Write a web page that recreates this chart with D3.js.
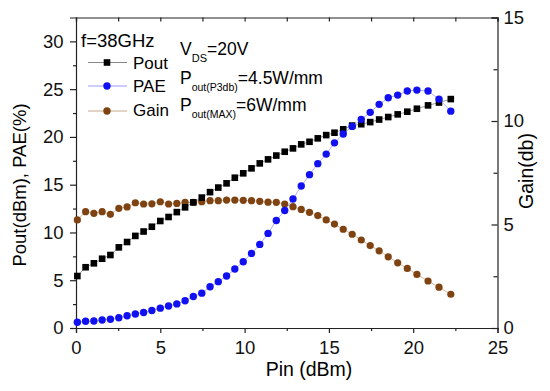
<!DOCTYPE html>
<html>
<head>
<meta charset="utf-8">
<script src="https://cdn.jsdelivr.net/npm/d3@7"></script>
<style>
  body { margin: 0; background: #fff; }
  svg { font-family: "Liberation Sans", Arial, sans-serif; }
  .axis path, .axis line { stroke: #222; stroke-width: 1.2; }
  .axis text { font-size: 18.5px; fill: #111; }
</style>
</head>
<body>
<svg id="chart" width="550" height="391"></svg>
<script>
// input power sweep (dBm)
var pin = [0.08, 0.57, 1.06, 1.55, 2.04, 2.54, 3.03, 3.52, 4.01, 4.50, 5.00, 5.49, 5.98, 6.47, 6.96,
  7.46, 7.95, 8.44, 8.93, 9.42, 9.92, 10.41, 10.90, 11.39, 11.88, 12.38, 12.87, 13.36, 13.85, 14.34,
  14.84, 15.33, 15.85, 16.38, 16.92, 17.45, 17.98, 18.52, 19.08, 19.65, 20.22, 20.88, 21.53, 22.23];

// output power (dBm)
var pout = [5.44, 6.36, 6.77, 7.25, 7.64, 8.44, 9.0, 9.64, 10.1, 10.6, 11.2, 11.62, 12.13, 12.63, 13.15,
  13.65, 14.22, 14.7, 15.14, 15.73, 16.19, 16.71, 17.23, 17.65, 18.05, 18.45, 18.8, 19.22, 19.49, 19.85,
  20.19, 20.44, 20.8, 21.19, 21.33, 21.55, 21.82, 22.08, 22.36, 22.64, 22.95, 23.3, 23.6, 23.96];

// power added efficiency (%)
var pae = [0.6, 0.7, 0.73, 0.84, 0.91, 1.08, 1.28, 1.47, 1.62, 1.83, 2.08, 2.3, 2.52, 2.85, 3.3,
  3.65, 4.32, 4.85, 5.44, 6.17, 6.94, 7.81, 8.75, 9.9, 11.25, 12.3, 13.5, 14.86, 16.05, 17.2,
  18.2, 19.38, 20.3, 21.1, 21.84, 22.57, 23.41, 24.1, 24.38, 24.8, 24.9, 24.8, 23.96, 22.7];

// gain (dB), right axis
var gain = [5.22, 5.62, 5.54, 5.62, 5.49, 5.78, 5.85, 6.05, 5.99, 6.0, 6.1, 5.99, 6.02, 6.07, 6.07,
  6.1, 6.15, 6.15, 6.18, 6.18, 6.17, 6.15, 6.12, 6.08, 6.07, 5.99, 5.86, 5.73, 5.59, 5.43,
  5.22, 5.02, 4.77, 4.53, 4.25, 3.98, 3.73, 3.44, 3.15, 2.88, 2.59, 2.27, 1.97, 1.63];

var xTicks = [0, 5, 10, 15, 20, 25];
var yLeftTicks = [0, 5, 10, 15, 20, 25, 30];
var yRightTicks = [0, 5, 10, 15];

// plot frame (window.top is reserved, so use other names)
var plotL = 76, plotR = 497.5, plotT = 17.5, plotB = 328;

var svg = d3.select("#chart");

var x = d3.scaleLinear().domain([0, 25]).range([plotL, plotR]);
var y = d3.scaleLinear().domain([0, 32.5]).range([plotB, plotT]);
var y2 = d3.scaleLinear().domain([0, 15]).range([plotB, plotT]);

// minor ticks
var xMinor = d3.range(2.5, 25, 5);
var yMinor = d3.range(2.5, 32.5, 5);
var y2Minor = d3.range(2.5, 15, 5);

// bottom axis, ticks outward
svg.append("g").attr("class", "axis")
  .attr("transform", "translate(0," + plotB + ")")
  .call(d3.axisBottom(x).tickValues(xTicks).tickSize(5).tickPadding(8).tickFormat(d3.format("d")));
svg.append("g").attr("class", "axis")
  .attr("transform", "translate(0," + plotB + ")")
  .call(d3.axisBottom(x).tickValues(xMinor).tickSize(3).tickFormat(""))
  .select(".domain").remove();

// top axis, ticks inward
svg.append("g").attr("class", "axis")
  .attr("transform", "translate(0," + plotT + ")")
  .call(d3.axisTop(x).tickValues(xTicks.concat(xMinor)).tickSize(-4).tickFormat(""));

// left axis, ticks outward
svg.append("g").attr("class", "axis")
  .attr("transform", "translate(" + plotL + ",0)")
  .call(d3.axisLeft(y).tickValues(yLeftTicks).tickSize(6).tickPadding(6.5).tickFormat(d3.format("d")));
svg.append("g").attr("class", "axis")
  .attr("transform", "translate(" + plotL + ",0)")
  .call(d3.axisLeft(y).tickValues(yMinor).tickSize(3).tickFormat(""))
  .select(".domain").remove();

// right axis, ticks inward
svg.append("g").attr("class", "axis")
  .attr("transform", "translate(" + plotR + ",0)")
  .call(d3.axisRight(y2).tickValues(yRightTicks).tickSize(-6).tickPadding(6).tickFormat(d3.format("d")));
svg.append("g").attr("class", "axis")
  .attr("transform", "translate(" + plotR + ",0)")
  .call(d3.axisRight(y2).tickValues(y2Minor).tickSize(-4).tickFormat(""))
  .select(".domain").remove();

// axis titles
svg.append("text")
  .attr("transform", "translate(26,185) rotate(-90)")
  .attr("text-anchor", "middle")
  .style("font-size", "18.5px")
  .text("Pout(dBm), PAE(%)");

svg.append("text")
  .attr("transform", "translate(533,171) rotate(-90)")
  .attr("text-anchor", "middle")
  .style("font-size", "19.5px")
  .text("Gain(db)");

svg.append("text")
  .attr("x", 309).attr("y", 376)
  .attr("text-anchor", "middle")
  .style("font-size", "19.5px")
  .text("Pin (dBm)");

var rows = pin.map(function (d, i) {
  return { pin: d, pout: pout[i], pae: pae[i], gain: gain[i] };
});

var gainColor = "#7f4312", paeColor = "#1010f0";

// gain series
svg.append("path").datum(rows)
  .attr("fill", "none").attr("stroke", "#c8a888").attr("stroke-width", 0.8)
  .attr("d", d3.line().x(function (d) { return x(d.pin); }).y(function (d) { return y2(d.gain); }));
svg.selectAll(".gdot").data(rows).enter().append("circle")
  .attr("cx", function (d) { return x(d.pin); })
  .attr("cy", function (d) { return y2(d.gain); })
  .attr("r", 3.6)
  .attr("fill", gainColor);

// pout series
svg.append("path").datum(rows)
  .attr("fill", "none").attr("stroke", "#888").attr("stroke-width", 0.8)
  .attr("d", d3.line().x(function (d) { return x(d.pin); }).y(function (d) { return y(d.pout); }));
svg.selectAll(".pdot").data(rows).enter().append("rect")
  .attr("x", function (d) { return x(d.pin) - 3.3; })
  .attr("y", function (d) { return y(d.pout) - 3.3; })
  .attr("width", 6.6).attr("height", 6.6)
  .attr("fill", "#000");

// pae series
svg.append("path").datum(rows)
  .attr("fill", "none").attr("stroke", "#9a9aff").attr("stroke-width", 0.8)
  .attr("d", d3.line().x(function (d) { return x(d.pin); }).y(function (d) { return y(d.pae); }));
svg.selectAll(".adot").data(rows).enter().append("circle")
  .attr("cx", function (d) { return x(d.pin); })
  .attr("cy", function (d) { return y(d.pae); })
  .attr("r", 3.7)
  .attr("fill", paeColor);

// legend
svg.append("text").attr("x", 81).attr("y", 47).style("font-size", "18.5px").text("f=38GHz");

var legend = [
  { name: "Pout", line: "#888", shape: "square", color: "#000", y: 62.5, ty: 68.5 },
  { name: "PAE", line: "#9a9aff", shape: "circle", color: paeColor, y: 86, ty: 92 },
  { name: "Gain", line: "#c8a888", shape: "circle", color: gainColor, y: 111, ty: 115.5 }
];
legend.forEach(function (l) {
  svg.append("line").attr("x1", 88).attr("x2", 127).attr("y1", l.y).attr("y2", l.y)
    .attr("stroke", l.line).attr("stroke-width", 1);
  if (l.shape === "square") {
    svg.append("rect").attr("x", 107 - 3.3).attr("y", l.y - 3.3).attr("width", 6.6).attr("height", 6.6).attr("fill", l.color);
  } else {
    svg.append("circle").attr("cx", 107).attr("cy", l.y).attr("r", 3.7).attr("fill", l.color);
  }
  svg.append("text").attr("x", 133).attr("y", l.ty).style("font-size", "17px").text(l.name);
});

// annotations
var ann = svg.append("text").attr("x", 180).attr("y", 55).style("font-size", "17.5px");
ann.append("tspan").text("V");
ann.append("tspan").attr("dy", 7).style("font-size", "11px").text("DS");
ann.append("tspan").attr("dy", -7).text("=20V");

var ann2 = svg.append("text").attr("x", 180).attr("y", 84).style("font-size", "17.5px");
ann2.append("tspan").text("P");
ann2.append("tspan").attr("dy", 7).style("font-size", "10.5px").text("out(P3db)");
ann2.append("tspan").attr("dy", -7).text("=4.5W/mm");

var ann3 = svg.append("text").attr("x", 180).attr("y", 110.5).style("font-size", "17.5px");
ann3.append("tspan").text("P");
ann3.append("tspan").attr("dy", 7).style("font-size", "10.5px").text("out(MAX)");
ann3.append("tspan").attr("dy", -7).text("=6W/mm");
</script>
</body>
</html>
